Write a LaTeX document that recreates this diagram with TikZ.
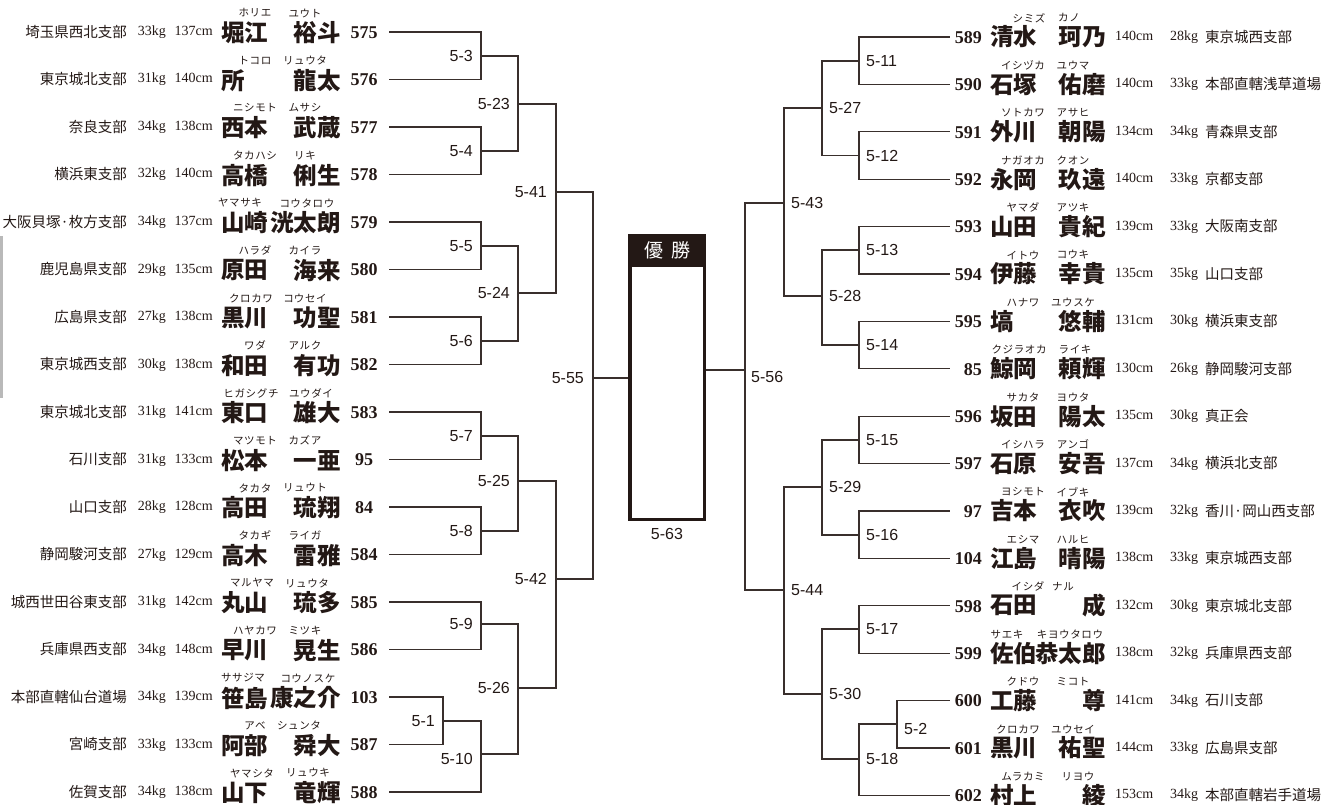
\documentclass[tikz,border=0pt]{standalone}
\usepackage{fontspec}
\setmainfont{Liberation Serif}
\setsansfont{Liberation Sans}
\newfontfamily\jp{Noto Sans CJK JP}
\newfontfamily\jpkana[LetterSpace=6]{Noto Sans CJK JP}
\usetikzlibrary{positioning}
\definecolor{ink}{HTML}{231815}

\tikzset{
  wire/.style={draw=ink!90, line width=1.3pt},
  brtext/.style={inner sep=0pt, text=ink, text height=12.5pt, text depth=2pt, font=\jp\fontsize{14.5}{15}\selectfont},
  sztext/.style={inner sep=0pt, text=ink, text height=10pt, text depth=3pt, font=\fontsize{14}{15}\selectfont},
  nmtext/.style={inner sep=0pt, text=ink, font=\jp\bfseries\fontsize{23.5}{24}\selectfont},
  rubytext/.style={inner sep=0pt, text=ink, font=\jpkana\fontsize{10.5}{11}\selectfont},
  nrtext/.style={inner sep=0pt, text=ink, text height=12.5pt, text depth=0pt, font=\bfseries\fontsize{18}{19}\selectfont},
  matchlab/.style={inner sep=1pt, text=ink, font=\sffamily\fontsize{16}{17}\selectfont},
  cupbox/.style={draw=ink, line width=3.5pt, minimum width=74.5pt, minimum height=283.5pt, inner sep=0pt},
  cuphead/.style={fill=ink, text=white, minimum width=78pt, minimum height=33pt, inner sep=0pt,
    font=\jp\fontsize{19}{20}\selectfont},
}

\begin{document}
\begin{tikzpicture}[x=1pt, y=-1pt]
\useasboundingbox (0,0) rectangle (1333,805);
\fill[gray!55] (0,236) rectangle (3,398);

% left block
\foreach \yy/\brn/\wkg/\hcm/\sei/\mei/\rsei/\rmei/\nr/\dx/\dm in {
  32/埼玉県西北支部/33kg/137cm/堀江/裕斗/ホリエ/ユウト/575/0/0,
  79.5/東京城北支部/31kg/140cm/所/龍太/トコロ/リュウタ/576/0/0,
  127/奈良支部/34kg/138cm/西本/武蔵/ニシモト/ムサシ/577/0/0,
  174.5/横浜東支部/32kg/140cm/高橋/俐生/タカハシ/リキ/578/0/0,
  222/大阪貝塚·枚方支部/34kg/137cm/山崎/洸太朗/ヤマサキ/コウタロウ/579/-15/2,
  269.5/鹿児島県支部/29kg/135cm/原田/海来/ハラダ/カイラ/580/0/0,
  317/広島県支部/27kg/138cm/黒川/功聖/クロカワ/コウセイ/581/-4/0,
  364.5/東京城西支部/30kg/138cm/和田/有功/ワダ/アルク/582/0/0,
  412/東京城北支部/31kg/141cm/東口/雄大/ヒガシグチ/ユウダイ/583/-4/6,
  459.5/石川支部/31kg/133cm/松本/一亜/マツモト/カズア/95/0/0,
  507/山口支部/28kg/128cm/高田/琉翔/タカタ/リュウト/84/0/0,
  554.5/静岡駿河支部/27kg/129cm/高木/雷雅/タカギ/ライガ/584/0/0,
  602/城西世田谷東支部/31kg/142cm/丸山/琉多/マルヤマ/リュウタ/585/-3/2,
  649.5/兵庫県西支部/34kg/148cm/早川/晃生/ハヤカワ/ミツキ/586/0/0,
  697/本部直轄仙台道場/34kg/139cm/笹島/康之介/ササジマ/コウノスケ/103/-12/3,
  744.5/宮崎支部/33kg/133cm/阿部/舜大/アベ/シュンタ/587/0/-6,
  792/佐賀支部/34kg/138cm/山下/竜輝/ヤマシタ/リュウキ/588/-3/3}{
  \node[brtext, anchor=east] (b\nr) at (127,\yy) {\brn};
  \node[sztext, anchor=east] (k\nr) at (166,\yy) {\wkg};
  \node[sztext, anchor=east] (c\nr) at (213,\yy) {\hcm};
  \node[nmtext, anchor=west] (s\nr) at (221,{\yy+1}) {\sei};
  \node[nmtext, anchor=east] (g\nr) at (341,{\yy+1}) {\mei};
  \node[rubytext] (rs\nr) at ({255+\dx},{\yy-19}) {\rsei};
  \node[rubytext] (rg\nr) at ({305+\dm},{\yy-19}) {\rmei};
  \node[nrtext, minimum width=50pt] (n\nr) at (364,\yy) {\nr};
}

% right block
\foreach \yy/\nr/\sei/\mei/\rsei/\rmei/\hcm/\wkg/\brn/\dx/\dm in {
  37/589/清水/珂乃/シミズ/カノ/140cm/28kg/東京城西支部/6/-4,
  84.4/590/石塚/佑磨/イシヅカ/ユウマ/140cm/33kg/本部直轄浅草道場/0/0,
  131.8/591/外川/朝陽/ソトカワ/アサヒ/134cm/34kg/青森県支部/0/0,
  179.2/592/永岡/玖遠/ナガオカ/クオン/140cm/33kg/京都支部/0/0,
  226.6/593/山田/貴紀/ヤマダ/アツキ/139cm/33kg/大阪南支部/0/0,
  274/594/伊藤/幸貴/イトウ/コウキ/135cm/35kg/山口支部/0/0,
  321.4/595/塙/悠輔/ハナワ/ユウスケ/131cm/30kg/横浜東支部/0/0,
  368.8/85/鯨岡/頼輝/クジラオカ/ライキ/130cm/26kg/静岡駿河支部/-4/2,
  416.2/596/坂田/陽太/サカタ/ヨウタ/135cm/30kg/真正会/0/0,
  463.6/597/石原/安吾/イシハラ/アンゴ/137cm/34kg/横浜北支部/0/0,
  511/97/吉本/衣吹/ヨシモト/イブキ/139cm/32kg/香川·岡山西支部/0/0,
  558.4/104/江島/晴陽/エシマ/ハルヒ/138cm/33kg/東京城西支部/0/0,
  605.8/598/石田/成/イシダ/ナル/132cm/30kg/東京城北支部/5/-10,
  653.2/599/佐伯/恭太郎/サエキ/キヨウタロウ/138cm/32kg/兵庫県西支部/-16/-3,
  700.6/600/工藤/尊/クドウ/ミコト/141cm/34kg/石川支部/0/0,
  748/601/黒川/祐聖/クロカワ/ユウセイ/144cm/33kg/広島県支部/-5/0,
  795.4/602/村上/綾/ムラカミ/リヨウ/153cm/34kg/本部直轄岩手道場/0/5}{
  \node[nrtext, text width=32pt, align=right, anchor=east] (n\nr) at (982,\yy) {\nr};
  \node[nmtext, anchor=west] (s\nr) at (990,\yy) {\sei};
  \node[nmtext, anchor=east] (g\nr) at (1106,\yy) {\mei};
  \node[rubytext] (rs\nr) at ({1023+\dx},{\yy-19}) {\rsei};
  \node[rubytext] (rg\nr) at ({1073+\dm},{\yy-19}) {\rmei};
  \node[sztext, anchor=west] (c\nr) at (1115,\yy) {\hcm};
  \node[sztext, anchor=west] (k\nr) at (1170,\yy) {\wkg};
  \node[brtext, anchor=west] (b\nr) at (1205,\yy) {\brn};
}

% trophy box
\node[cupbox] (cup) at (667,377.5) {};
\node[cuphead, anchor=north] (head) at (cup.north) {優\hspace{8pt}勝};
\node[matchlab, below=6pt of cup] (fin) {5-63};

% match points
\coordinate (m3) at (481,56);
\coordinate (m4) at (481,151);
\coordinate (m5) at (481,246);
\coordinate (m6) at (481,341);
\coordinate (m7) at (481,436);
\coordinate (m8) at (481,531);
\coordinate (m9) at (481,624);
\coordinate (m1) at (443,721);
\coordinate (m10) at (481,754);
\coordinate (m23) at (518,104);
\coordinate (m24) at (518,293);
\coordinate (m25) at (518,481);
\coordinate (m26) at (518,688);
\coordinate (m41) at (556,192);
\coordinate (m42) at (556,579);
\coordinate (m55) at (593,378);

\coordinate (m11) at (859,61);
\coordinate (m12) at (859,155.5);
\coordinate (m13) at (859,250);
\coordinate (m14) at (859,345);
\coordinate (m15) at (859,440);
\coordinate (m16) at (859,535);
\coordinate (m17) at (859,629);
\coordinate (m2) at (897,724);
\coordinate (m18) at (859,759);
\coordinate (m27) at (822,108);
\coordinate (m28) at (822,296);
\coordinate (m29) at (822,487);
\coordinate (m30) at (822,694);
\coordinate (m43) at (784,203);
\coordinate (m44) at (784,590);
\coordinate (m56) at (745,370);

% left bracket
\draw[wire] (n575.east) -| (m3) |- (n576.east);
\draw[wire] (n577.east) -| (m4) |- (n578.east);
\draw[wire] (n579.east) -| (m5) |- (n580.east);
\draw[wire] (n581.east) -| (m6) |- (n582.east);
\draw[wire] (n583.east) -| (m7) |- (n95.east);
\draw[wire] (n84.east) -| (m8) |- (n584.east);
\draw[wire] (n585.east) -| (m9) |- (n586.east);
\draw[wire] (n103.east) -| (m1) |- (n587.east);
\draw[wire] (m1) -| (m10) |- (n588.east);
\draw[wire] (m3) -| (m23) |- (m4);
\draw[wire] (m5) -| (m24) |- (m6);
\draw[wire] (m7) -| (m25) |- (m8);
\draw[wire] (m9) -| (m26) |- (m10);
\draw[wire] (m23) -| (m41) |- (m24);
\draw[wire] (m25) -| (m42) |- (m26);
\draw[wire] (m41) -| (m55) |- (m42);
\draw[wire] (m55) -- (m55 -| cup.west);

% right bracket
\draw[wire] (n589.west) -| (m11) |- (n590.west);
\draw[wire] (n591.west) -| (m12) |- (n592.west);
\draw[wire] (n593.west) -| (m13) |- (n594.west);
\draw[wire] (n595.west) -| (m14) |- (n85.west);
\draw[wire] (n596.west) -| (m15) |- (n597.west);
\draw[wire] (n97.west) -| (m16) |- (n104.west);
\draw[wire] (n598.west) -| (m17) |- (n599.west);
\draw[wire] (n600.west) -| (m2) |- (n601.west);
\draw[wire] (m2) -| (m18) |- (n602.west);
\draw[wire] (m11) -| (m27) |- (m12);
\draw[wire] (m13) -| (m28) |- (m14);
\draw[wire] (m15) -| (m29) |- (m16);
\draw[wire] (m17) -| (m30) |- (m18);
\draw[wire] (m27) -| (m43) |- (m28);
\draw[wire] (m29) -| (m44) |- (m30);
\draw[wire] (m43) -| (m56) |- (m44);
\draw[wire] (m56) -- (m56 -| cup.east);

% match numbers
\node[matchlab, left=7pt of m3] (t3) {5-3};
\node[matchlab, left=7pt of m4] (t4) {5-4};
\node[matchlab, left=7pt of m5] (t5) {5-5};
\node[matchlab, left=7pt of m6] (t6) {5-6};
\node[matchlab, left=7pt of m7] (t7) {5-7};
\node[matchlab, left=7pt of m8] (t8) {5-8};
\node[matchlab, left=7pt of m9] (t9) {5-9};
\node[matchlab, left=7pt of m1] (t1) {5-1};
\node[matchlab, left=7pt of m10, yshift=-5pt] (t10) {5-10};
\node[matchlab, left=7pt of m23] (t23) {5-23};
\node[matchlab, left=7pt of m24] (t24) {5-24};
\node[matchlab, left=7pt of m25] (t25) {5-25};
\node[matchlab, left=7pt of m26] (t26) {5-26};
\node[matchlab, left=8pt of m41] (t41) {5-41};
\node[matchlab, left=8pt of m42] (t42) {5-42};
\node[matchlab, left=8pt of m55] (t55) {5-55};

\node[matchlab, right=6pt of m11] (t11) {5-11};
\node[matchlab, right=6pt of m12] (t12) {5-12};
\node[matchlab, right=6pt of m13] (t13) {5-13};
\node[matchlab, right=6pt of m14] (t14) {5-14};
\node[matchlab, right=6pt of m15] (t15) {5-15};
\node[matchlab, right=6pt of m16] (t16) {5-16};
\node[matchlab, right=6pt of m17] (t17) {5-17};
\node[matchlab, right=6pt of m2, yshift=-5pt] (t2) {5-2};
\node[matchlab, right=6pt of m18] (t18) {5-18};
\node[matchlab, right=6pt of m27] (t27) {5-27};
\node[matchlab, right=6pt of m28] (t28) {5-28};
\node[matchlab, right=6pt of m29] (t29) {5-29};
\node[matchlab, right=6pt of m30] (t30) {5-30};
\node[matchlab, right=6pt of m43] (t43) {5-43};
\node[matchlab, right=6pt of m44] (t44) {5-44};
\node[matchlab, right=5pt of m56, yshift=-7pt] (t56) {5-56};
\end{tikzpicture}
\end{document}
